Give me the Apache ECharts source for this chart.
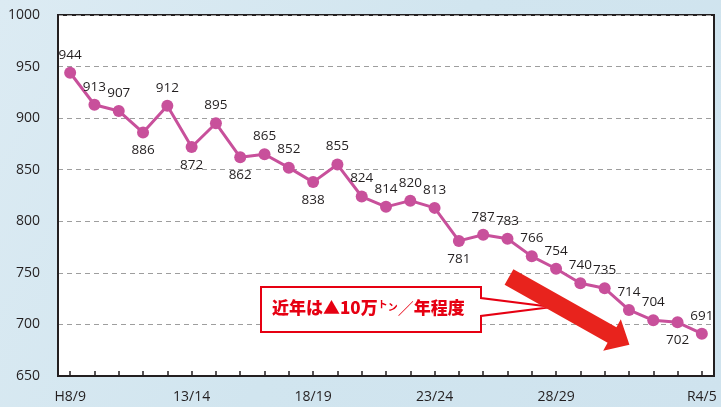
<!DOCTYPE html>
<html>
<head>
<meta charset="utf-8">
<script src="https://cdn.jsdelivr.net/npm/echarts@6/dist/echarts.min.js"></script>
<style>
html,body{margin:0;padding:0;background:#d3e6f0;}
#c{width:721px;height:407px;}
</style>
</head>
<body>
<div id="c"></div>
<script>
const categories = ['H8/9','9/10','10/11','11/12','12/13','13/14','14/15','15/16','16/17','17/18','18/19','19/20','20/21','21/22','22/23','23/24','24/25','25/26','26/27','27/28','28/29','29/30','30/R1','R1/2','R2/3','R3/4','R4/5'];
const values = [944,913,907,886,912,872,895,862,865,852,838,855,824,814,820,813,781,787,783,766,754,740,735,714,704,702,691];
const labelSide = ['t','t','t','b','t','b','t','b','t','t','b','t','t','t','t','t','b','t','t','t','t','t','t','t','t','b','t'];
const shownLabels = [0,5,10,15,20,26];
const yTicks = [650,700,750,800,850,900,950,1000];

const chart = echarts.init(document.getElementById('c'));
const font = "'Open Sans', 'Noto Sans', sans-serif";
const red = '#e60012';

// arrow geometry (annotation)
const C0=[509,277], B=[612,335], u=[0.872,0.49], n=[-0.49,0.872];
const T=[B[0]+u[0]*20, B[1]+u[1]*20];
const p=(P,k)=>[P[0]+n[0]*k, P[1]+n[1]*k];
const arrowPts=[p(C0,-9),p(B,-9),p(B,-18),T,p(B,18),p(B,9),p(C0,9)];

chart.setOption({
  backgroundColor: new echarts.graphic.LinearGradient(0,0,1,1,[
    {offset:0,color:'#dcebf3'},{offset:0.5,color:'#d1e5ef'},{offset:1,color:'#cfe3ee'}]),
  animation:false,
  grid:{left:58,right:7,top:15,bottom:31,show:true,backgroundColor:'#ffffff',borderColor:'#231f20',borderWidth:2},
  xAxis:{
    type:'category',data:categories,boundaryGap:true,
    axisLine:{show:true,lineStyle:{color:'#231f20',width:2}},
    axisTick:{show:true,inside:true,alignWithLabel:true,interval:0,length:5,lineStyle:{color:'#231f20',width:1.5}},
    axisLabel:{interval:(i)=>shownLabels.includes(i),margin:14,fontSize:14,color:'#231f20',fontFamily:font},
    splitLine:{show:false}
  },
  yAxis:{
    type:'value',min:yTicks[0],max:yTicks[yTicks.length-1],interval:50,
    axisLine:{show:true,lineStyle:{color:'#231f20',width:2}},
    axisTick:{show:false},
    axisLabel:{margin:18,fontSize:14,color:'#231f20',fontFamily:font,formatter:(v)=>String(v)},
    splitLine:{show:true,lineStyle:{color:'#9e9e9e',type:[5,4],width:1}}
  },
  series:[{
    type:'line',data:values.map((v,i)=>({value:v,label:{position:labelSide[i]==='t'?'top':'bottom'}})),
    symbol:'circle',symbolSize:12,
    lineStyle:{color:'#c8509b',width:3},
    itemStyle:{color:'#c8509b'},
    label:{show:true,fontSize:13.5,color:'#231f20',fontFamily:font,distance:5},
    z:3
  }],
  graphic:[
    {type:'polygon',z:10,shape:{points:[[261,287],[481,287],[481,298],[552,307],[481,316],[481,332],[261,332]]},
     style:{fill:'#ffffff',stroke:red,lineWidth:2}},
    {type:'text',z:11,left:272,top:299,style:{
      text:'{a|近年は▲10万}{t|ト}{n|ン}{s|／}{a|年程度}',
      rich:{
        a:{fontSize:17,fontWeight:900,fill:red,color:red,fontFamily:"'Noto Sans CJK JP', sans-serif",verticalAlign:'middle'},
        t:{fontSize:10,fontWeight:'bold',color:red,fill:red,fontFamily:"'Noto Sans CJK JP', sans-serif",verticalAlign:'top'},
        n:{fontSize:10,fontWeight:'bold',color:red,fill:red,fontFamily:"'Noto Sans CJK JP', sans-serif",verticalAlign:'middle'},
        s:{fontSize:16,fontWeight:'normal',color:red,fill:red,fontFamily:"'Noto Sans CJK JP', sans-serif",verticalAlign:'middle'}
      }
    }},
    {type:'polygon',z:12,shape:{points:arrowPts},style:{fill:'#e8231d',stroke:'none'}}
  ]
});
</script>
</body>
</html>
